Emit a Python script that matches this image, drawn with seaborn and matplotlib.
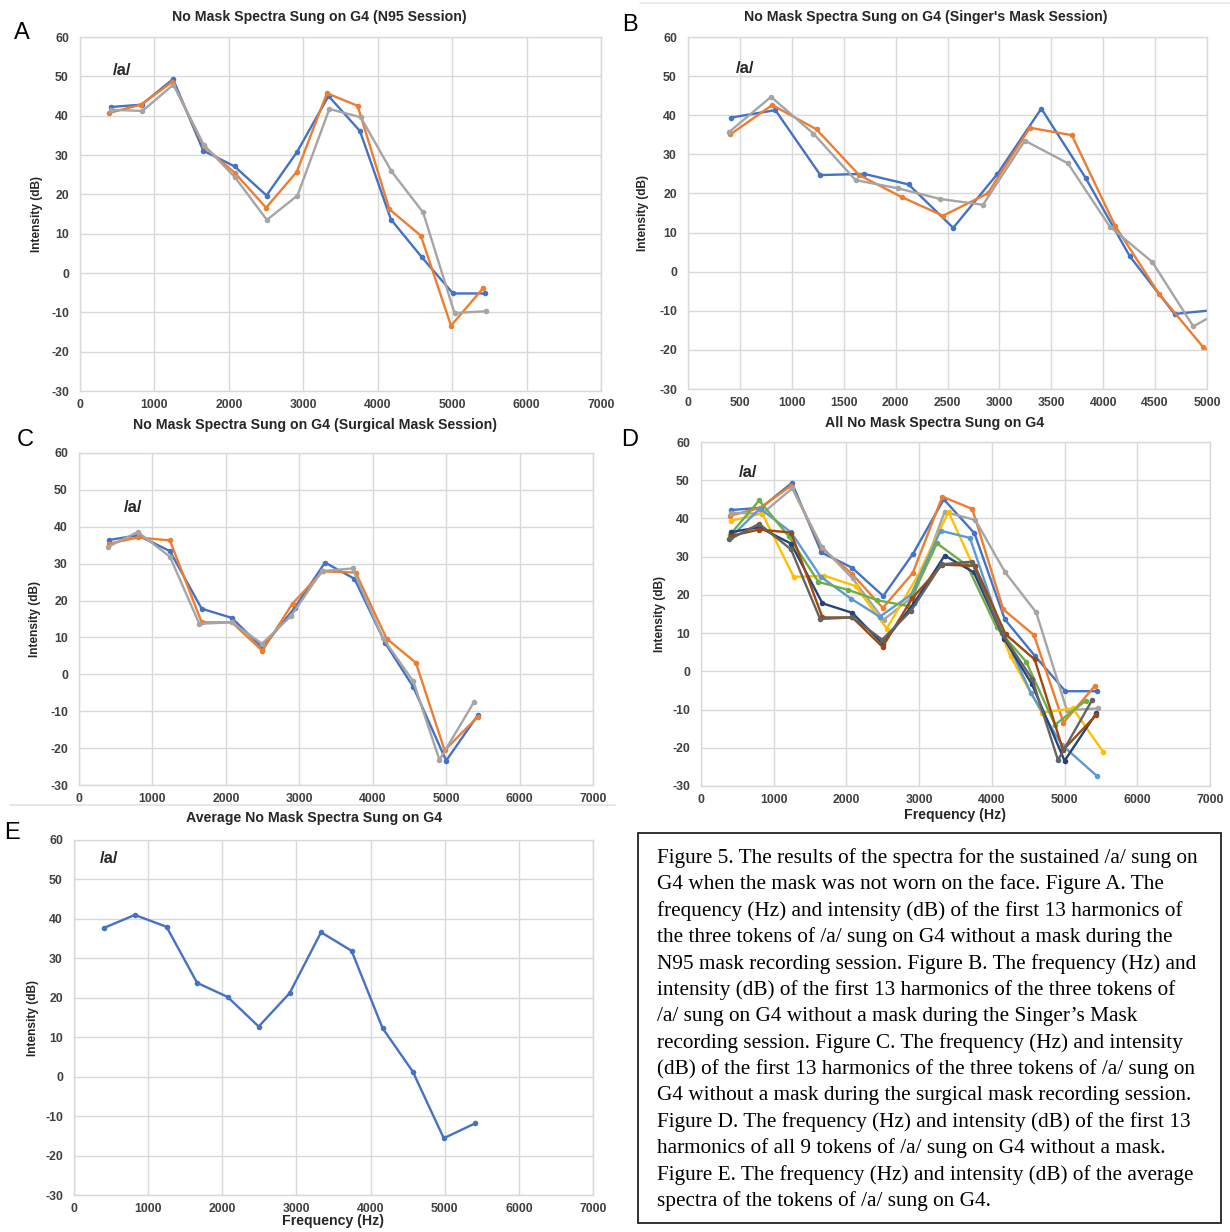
import matplotlib
matplotlib.use("Agg")
import matplotlib.pyplot as plt
import seaborn as sns
import pandas as pd
from matplotlib.lines import Line2D
from matplotlib.patches import Rectangle

# ---------------- data ----------------
# Panel A : N95 session
a1_hz = [411, 828, 1250, 1656, 2078, 2506, 2917, 3339, 3761, 4178, 4589, 5011, 5444]
a1_db = [42.2, 42.8, 49.3, 31.1, 27.1, 19.7, 30.8, 45.0, 36.1, 13.6, 4.1, -5.2, -5.2]
a2_hz = [396, 818, 1240, 1662, 2078, 2500, 2912, 3318, 3730, 4157, 4579, 4985, 5418]
a2_db = [40.7, 42.8, 48.6, 32.2, 25.5, 16.6, 25.7, 45.7, 42.5, 16.2, 9.5, -13.4, -3.8]
a3_hz = [417, 839, 1256, 1662, 2084, 2511, 2922, 3350, 3772, 4183, 4610, 5032, 5460]
a3_db = [41.5, 41.2, 47.9, 32.6, 24.3, 13.5, 19.7, 41.7, 39.6, 25.9, 15.4, -10.2, -9.7]

# Panel B : Singer's mask session
b1_hz = [415, 842, 1275, 1698, 2125, 2555, 2981, 3404, 3830, 4257, 4687, 5114, 5531]
b1_db = [39.4, 41.3, 24.7, 25.0, 22.3, 11.2, 25.0, 41.7, 24.0, 3.9, -10.8, -9.7, -21.1]
b2_hz = [408, 811, 1238, 1649, 2064, 2457, 2887, 3294, 3698, 4113, 4536, 4960, 5440]
b2_db = [35.1, 42.6, 36.4, 24.7, 19.0, 14.3, 20.0, 36.8, 34.9, 11.8, -5.6, -19.2, -27.3]
b3_hz = [396, 800, 1208, 1615, 2026, 2426, 2842, 3245, 3660, 4064, 4472, 4868, 5289]
b3_db = [35.7, 44.7, 35.3, 23.4, 21.3, 18.6, 17.1, 33.5, 27.7, 11.5, 2.5, -14.0, -7.7]

# Panel C : surgical mask session
c1_hz = [406, 800, 1238, 1670, 2081, 2497, 2935, 3351, 3751, 4173, 4552, 5000, 5438]
c1_db = [36.4, 37.7, 33.4, 17.8, 15.3, 7.2, 18.0, 30.3, 25.9, 8.4, -3.4, -23.4, -10.9]
c2_hz = [406, 800, 1238, 1670, 2081, 2497, 2908, 3319, 3767, 4189, 4589, 4979, 5432]
c2_db = [35.4, 37.1, 36.3, 14.1, 14.1, 6.4, 19.2, 27.9, 27.6, 9.7, 3.1, -20.6, -11.5]
c3_hz = [390, 800, 1238, 1638, 2081, 2492, 2887, 3308, 3725, 4136, 4552, 4909, 5379]
c3_db = [34.5, 38.6, 31.9, 13.7, 14.1, 8.3, 15.8, 28.0, 28.7, 9.9, -1.9, -23.2, -7.5]

# Panel E : average
e_hz = [402, 820, 1248, 1660, 2073, 2491, 2909, 3332, 3744, 4162, 4569, 4987, 5415]
e_db = [37.7, 41.0, 38.0, 23.8, 20.2, 12.7, 21.2, 36.6, 31.9, 12.3, 1.3, -15.6, -11.8]

titles = ["No Mask Spectra Sung on G4 (N95 Session)",
          "No Mask Spectra Sung on G4 (Singer's Mask Session)",
          "No Mask Spectra Sung on G4 (Surgical Mask Session)",
          "All No Mask Spectra Sung on G4",
          "Average No Mask Spectra Sung on G4"]
panel_letters = ["A", "B", "C", "D", "E"]
y_ticks = [-30, -20, -10, 0, 10, 20, 30, 40, 50, 60]
x_ticks_full = [0, 1000, 2000, 3000, 4000, 5000, 6000, 7000]
x_ticks_b = [0, 500, 1000, 1500, 2000, 2500, 3000, 3500, 4000, 4500, 5000]

caption_lines = [
    "Figure 5. The results of the spectra for the sustained /a/ sung on",
    "G4 when the mask was not worn on the face. Figure A. The",
    "frequency (Hz) and intensity (dB) of the first 13 harmonics of",
    "the three tokens of /a/ sung on G4 without a mask during the",
    "N95 mask recording session. Figure B. The frequency (Hz) and",
    "intensity (dB) of the first 13 harmonics of the three tokens of",
    "/a/ sung on G4 without a mask during the Singer\u2019s Mask",
    "recording session. Figure C. The frequency (Hz) and intensity",
    "(dB) of the first 13 harmonics of the three tokens of /a/ sung on",
    "G4 without a mask during the surgical mask recording session.",
    "Figure D. The frequency (Hz) and intensity (dB) of the first 13",
    "harmonics of all 9 tokens of /a/ sung on G4 without a mask.",
    "Figure E. The frequency (Hz) and intensity (dB) of the average",
    "spectra of the tokens of /a/ sung on G4.",
]

# Excel office palette
C_BLUE, C_ORANGE, C_GRAY = "#4472C4", "#ED7D31", "#A5A5A5"
C_YELLOW, C_LBLUE, C_GREEN = "#FFC000", "#5B9BD5", "#70AD47"
C_DBLUE, C_BROWN, C_DGRAY = "#264478", "#9E480E", "#636363"


def frame(series):
    rows = []
    for name, hz, db in series:
        for h, d in zip(hz, db):
            rows.append({"token": name, "hz": h, "db": d})
    return pd.DataFrame(rows)


A = [("a1", a1_hz, a1_db), ("a2", a2_hz, a2_db), ("a3", a3_hz, a3_db)]
B = [("b1", b1_hz, b1_db), ("b2", b2_hz, b2_db), ("b3", b3_hz, b3_db)]
C = [("c1", c1_hz, c1_db), ("c2", c2_hz, c2_db), ("c3", c3_hz, c3_db)]
E = [("e", e_hz, e_db)]

panels = [
    (frame(A), {"a1": C_BLUE, "a2": C_ORANGE, "a3": C_GRAY}),
    (frame(B), {"b1": C_BLUE, "b2": C_ORANGE, "b3": C_GRAY}),
    (frame(C), {"c1": C_BLUE, "c2": C_ORANGE, "c3": C_GRAY}),
    (frame(A + B + C), {"a1": C_BLUE, "a2": C_ORANGE, "a3": C_GRAY,
                        "b1": C_YELLOW, "b2": C_LBLUE, "b3": C_GREEN,
                        "c1": C_DBLUE, "c2": C_BROWN, "c3": C_DGRAY}),
    (frame(E), {"e": C_BLUE}),
]

# ---------------- style ----------------
sns.set_style("whitegrid", {"grid.color": "#d9d9d9", "axes.edgecolor": "#d9d9d9"})
SANS = ["Liberation Sans", "DejaVu Sans"]
plt.rcParams["font.family"] = SANS
plt.rcParams["axes.unicode_minus"] = False

W, H = 1230, 1232
fig = plt.figure(figsize=(W / 100, H / 100), dpi=100)


def rect(x0, x1, y0, y1):
    return [x0 / W, 1 - y1 / H, (x1 - x0) / W, (y1 - y0) / H]


# pixel extents of plot areas: (left, right, top, bottom)
boxes = [(80, 601, 37, 391), (688, 1207, 37, 389), (79, 593, 453, 785),
         (701, 1210, 442, 786), (74, 593, 840, 1195)]
title_xy = [(319, 17), (926, 17), (315, 425), (935, 423), (314, 818)]
ylabel_x = [37, 643, 35, 660, 33]
xlabel_y = [None, None, None, 815, 1221]
letter_pos = [(22, 33), (630, 25), (25, 440), (630, 440), (12, 833)]
a_label = [(560, 51.5), (547, 51.9), (736, 45.3), (654, 51.9), (476, 55.4)]

for i, ((df, pal), box) in enumerate(zip(panels, boxes)):
    ax = fig.add_axes(rect(box[0], box[1], box[2], box[3]))
    sns.lineplot(data=df, x="hz", y="db", hue="token", palette=pal, sort=False,
                 estimator=None, marker="o", markersize=4.0, markeredgewidth=0,
                 linewidth=1.7, legend=False, ax=ax)
    if i == 1:
        ax.set_xlim(0, 5000)
        ax.set_xticks(x_ticks_b)
    else:
        ax.set_xlim(0, 7000)
        ax.set_xticks(x_ticks_full)
    ax.set_ylim(-30, 60)
    ax.set_yticks(y_ticks)
    ax.grid(True, color="#d9d9d9", linewidth=1.0)
    for s in ax.spines.values():
        s.set_color("#d9d9d9")
        s.set_linewidth(1.0)
    ax.tick_params(axis="both", length=0, labelsize=8.8, colors="#404040")
    ax.tick_params(axis="y", pad=8)
    ax.tick_params(axis="x", pad=6)
    for lab in ax.get_xticklabels() + ax.get_yticklabels():
        lab.set_fontweight("bold")
    ax.set_ylabel("")
    ax.set_xlabel("")
    cy = (box[2] + box[3]) / 2
    cx = (box[0] + box[1]) / 2
    fig.text(ylabel_x[i] / W, 1 - cy / H, "Intensity (dB)", rotation=90,
             ha="center", va="center", fontsize=8.6, fontweight="bold", color="#262626")
    if xlabel_y[i] is not None:
        fig.text(cx / W, 1 - xlabel_y[i] / H, "Frequency (Hz)", ha="center", va="center",
                 fontsize=10.2, fontweight="bold", color="#262626")
    ax.text(a_label[i][0], a_label[i][1], "/a/", fontsize=12, fontweight="bold",
            color="#262626", ha="center", va="center")
    fig.text(title_xy[i][0] / W, 1 - title_xy[i][1] / H, titles[i], ha="center", va="center",
             fontsize=10.2, fontweight="bold", color="#262626")
    fig.text(letter_pos[i][0] / W, 1 - letter_pos[i][1] / H, panel_letters[i],
             ha="center", va="center", fontsize=17, color="black")

# separator lines seen in the composite
fig.add_artist(Line2D([10 / W, 615 / W], [1 - 805 / H, 1 - 805 / H], color="#e3e3e3", lw=1.2))
fig.add_artist(Line2D([640 / W, 1230 / W], [1 - 3 / H, 1 - 3 / H], color="#e8e8e8", lw=1.2))

# caption box
fig.add_artist(Rectangle((638 / W, 1 - 1223 / H), (1221 - 638) / W, (1223 - 833) / H,
                         transform=fig.transFigure, fill=False, edgecolor="#222222", lw=1.3))
for k, line in enumerate(caption_lines):
    y = 858 + k * 26.4
    fig.text(657 / W, 1 - y / H, line, ha="left", va="center", fontsize=15.3,
             family=["Liberation Serif", "DejaVu Serif"], color="black")

fig.savefig("out.png", dpi=100)
